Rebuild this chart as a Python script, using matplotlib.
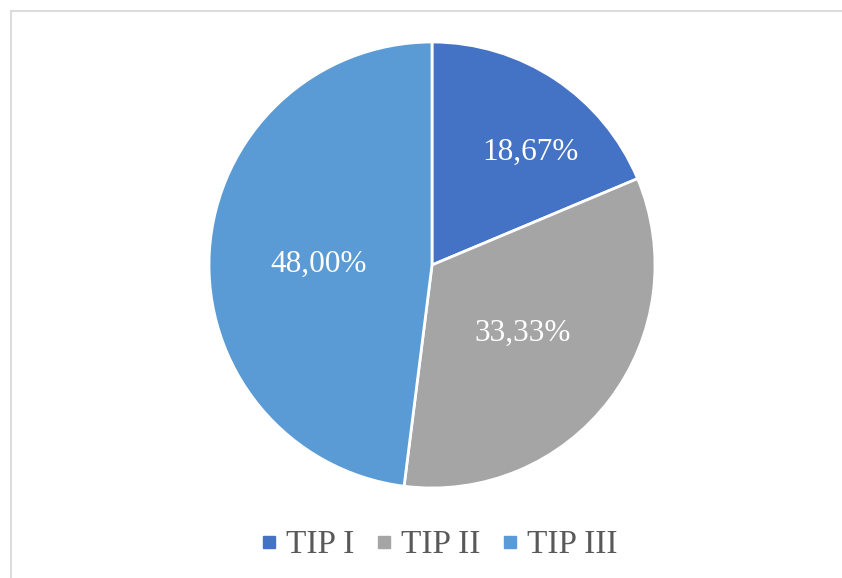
import matplotlib
matplotlib.use("Agg")
import matplotlib.pyplot as plt
from matplotlib.lines import Line2D

# data
categories = ["TIP I", "TIP II", "TIP III"]
shares = [18.67, 33.33, 48.00]
colors = ["#4472C4", "#A5A5A5", "#5B9BD5"]

plt.rcParams['font.family'] = ['Liberation Serif', 'DejaVu Serif']

fig = plt.figure(figsize=(8.42, 5.78), dpi=100)

# pie centred at ~(432,265) px, radius ~223 px
cx, cy, r = 432, 265, 223
W, H = 842, 578
ax = fig.add_axes([(cx - r) / W, (H - cy - r) / H, 2 * r / W, 2 * r / H])

wedges, texts, autotexts = ax.pie(
    shares, colors=colors, startangle=90, counterclock=False,
    autopct=lambda p: f"{p:.2f}%".replace(".", ","),
    pctdistance=0.51, radius=1.0,
    wedgeprops=dict(edgecolor="white", linewidth=2),
    textprops=dict(color="white", fontsize=22.5))
ax.set_xlim(-1, 1)
ax.set_ylim(-1, 1)
ax.set_aspect("equal")
ax.axis("off")

# label placement nudges to match the reference
autotexts[0].set_position((0.44, 0.507))
autotexts[2].set_y(0.005)

# frame lines (top and left visible in reference)
fig.add_artist(Line2D([10.5 / W, 10.5 / W], [0, 1 - 10.5 / H], transform=fig.transFigure,
                      color="#D9D9D9", linewidth=1.3))
fig.add_artist(Line2D([10.5 / W, 1], [1 - 10.5 / H, 1 - 10.5 / H], transform=fig.transFigure,
                      color="#D9D9D9", linewidth=1.3))

handles = [Line2D([], [], marker="s", linestyle="none", markersize=8,
                  markerfacecolor=c, markeredgecolor=c) for c in colors]
fig.legend(handles, categories, loc="center", bbox_to_anchor=(438 / W, 1 - 545 / H),
           ncol=3, frameon=False, fontsize=24, handlelength=0.6, handletextpad=0.2,
           columnspacing=0.6, labelcolor="#595959")

fig.savefig("out.png", dpi=100)
